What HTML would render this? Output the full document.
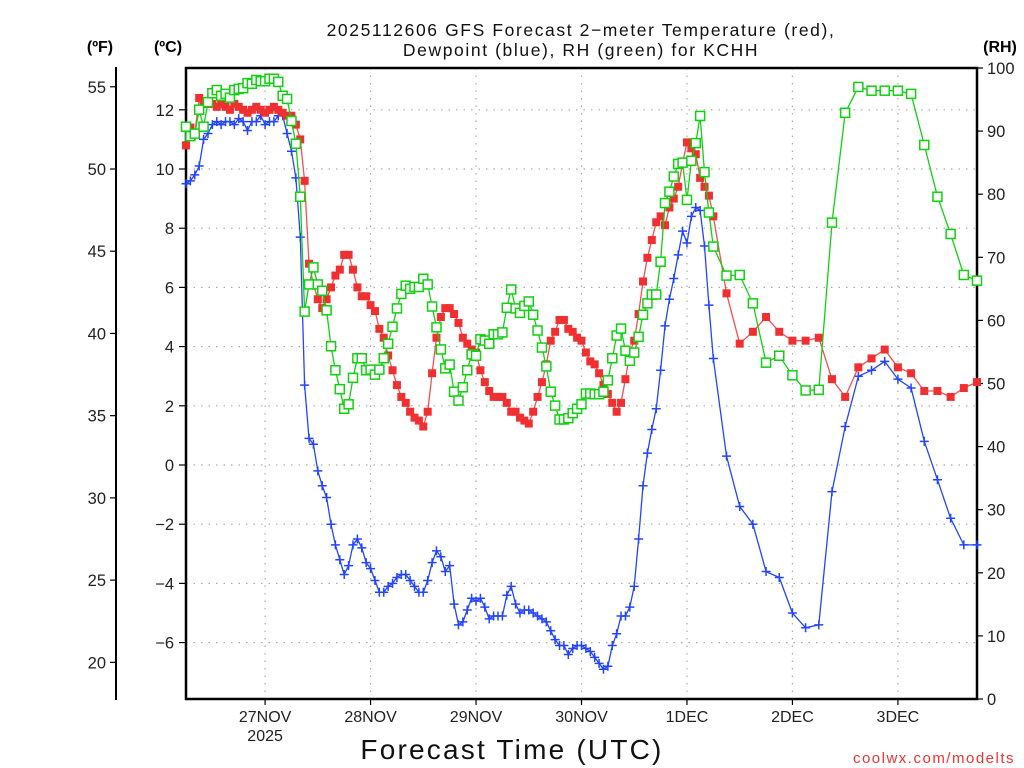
<!DOCTYPE html>
<html><head><meta charset="utf-8"><style>
html,body{margin:0;padding:0;background:#fff;}
svg{display:block;font-family:"Liberation Sans",sans-serif;}
</style></head><body>
<svg id="chart" width="1024" height="768" viewBox="0 0 1024 768" xmlns="http://www.w3.org/2000/svg">
<text x="581" y="36" font-size="17.5" text-anchor="middle" fill="#111" letter-spacing="1.6">2025112606 GFS Forecast 2−meter Temperature (red),</text>
<text x="581" y="56" font-size="17.5" text-anchor="middle" fill="#111" letter-spacing="1.6">Dewpoint (blue), RH (green) for KCHH</text>
<text x="100" y="52" font-size="16" font-weight="bold" text-anchor="middle">(ºF)</text>
<text x="168" y="52" font-size="16" font-weight="bold" text-anchor="middle">(ºC)</text>
<text x="1000" y="52" font-size="16" font-weight="bold" text-anchor="middle">(RH)</text>
<text x="512" y="759" font-size="28" text-anchor="middle" fill="#111" letter-spacing="2.2">Forecast Time (UTC)</text>
<text x="1015" y="763" font-size="15" text-anchor="end" fill="#e33" letter-spacing="1.5">coolwx.com/modelts</text>
<g id="grid"></g><g id="axes"></g><g id="series"></g>
</svg>
<script>
// ---- data ----
const dayLabels = ["27NOV","28NOV","29NOV","30NOV","1DEC","2DEC","3DEC"];
const dayHours = [18,42,66,90,114,138,162];
const cTicks = [12,10,8,6,4,2,0,-2,-4,-6];
const fTicks = [55,50,45,40,35,30,25,20];
const rhTicks = [100,90,80,70,60,50,40,30,20,10,0];
const hours = [];
for (let h = 0; h <= 120; h++) hours.push(h);
for (let h = 123; h <= 180; h += 3) hours.push(h);
const tempC = [10.8,11.4,11.2,12.4,12.2,12.2,12.2,12.1,12.2,12.1,12.0,12.2,12.1,12.0,11.9,12.0,12.1,12.0,11.9,12.0,12.1,12.0,11.9,11.8,11.8,11.5,11.0,
9.6,6.8,6.1,5.6,5.3,5.6,6.0,6.4,6.6,7.1,
7.1,6.6,6.0,5.7,5.7,5.4,5.2,4.6,4.3,3.7,
3.2,2.7,2.3,2.1,1.8,1.6,1.5,1.3,1.8,3.1,
4.3,5.0,5.3,5.3,5.1,4.8,4.3,4.1,3.9,3.8,
3.2,2.8,2.5,2.3,2.3,2.3,2.1,1.8,1.8,1.6,
1.5,1.4,1.8,2.3,2.8,3.4,4.2,4.5,4.9,4.9,
4.6,4.5,4.3,4.2,3.8,3.5,3.4,3.1,2.7,2.4,
2.1,1.8,2.1,2.9,3.8,4.2,5.1,6.2,
7.0,7.6,8.2,8.4,8.1,8.7,9.0,9.4,10.2,10.9,10.7,10.5,9.7,9.4,9.1,8.4,
5.8,4.1,4.5,5.0,4.5,4.2,4.2,4.3,2.9,2.3,3.3,3.6,3.9,3.3,3.1,2.5,2.5,2.3,2.6,2.8];
const dewC = [9.5,9.6,9.8,10.1,11.0,11.2,11.5,11.6,11.5,11.6,11.6,11.5,11.7,11.6,11.3,11.6,11.6,11.8,11.5,11.6,11.6,11.8,11.8,11.2,10.6,9.7,7.7,
2.7,0.9,0.7,-0.2,-0.7,-1.1,-2.0,-2.7,-3.2,-3.7,
-3.4,-2.7,-2.5,-2.8,-3.3,-3.5,-3.9,-4.3,-4.3,-4.1,
-4.0,-3.8,-3.7,-3.7,-3.9,-4.1,-4.3,-4.3,-3.9,-3.3,
-2.9,-3.1,-3.6,-3.4,-4.7,-5.4,-5.3,-4.9,-4.5,-4.6,
-4.5,-4.8,-5.2,-5.1,-5.1,-5.1,-4.4,-4.1,-4.7,-5.0,
-4.9,-4.9,-5.0,-5.1,-5.2,-5.3,-5.6,-5.9,-6.1,-6.1,
-6.4,-6.2,-6.1,-6.1,-6.2,-6.3,-6.5,-6.7,-6.9,-6.8,
-6.1,-5.7,-5.1,-5.1,-4.8,-4.1,-2.5,-0.7,
0.4,1.2,1.9,3.2,4.7,5.6,6.3,7.1,7.9,7.5,8.4,8.7,8.6,7.4,5.4,3.6,
0.3,-1.4,-2.0,-3.6,-3.8,-5.0,-5.5,-5.4,-0.9,1.3,3.0,3.2,3.5,2.9,2.6,0.8,-0.5,-1.8,-2.7,-2.7];
const rhPct = [90.7,89.2,89.6,93.4,90.7,94.6,96.0,96.5,95.6,95.9,95.3,96.5,96.7,96.8,97.6,97.5,98.1,97.9,97.9,98.3,98.3,97.8,95.6,95.1,91.6,88.0,79.6,
61.4,65.7,68.4,65.7,64.7,61.6,55.9,52.1,49.1,46.0,
46.7,50.9,54.0,54.0,52.1,52.2,51.4,52.2,54.0,56.3,
59.0,61.9,64.2,65.5,65.0,65.3,65.3,66.6,65.7,62.2,
58.9,55.4,52.4,53.0,48.7,47.3,49.4,52.1,54.6,54.4,
57.0,56.8,56.3,57.8,57.8,58.1,62.0,64.9,61.9,61.2,
62.3,63.0,60.9,58.4,55.7,52.7,48.7,46.5,44.3,44.3,
44.5,45.3,46.0,46.7,48.4,48.4,48.3,48.3,48.7,50.5,
54.0,57.6,58.7,55.2,53.6,54.9,57.4,60.9,
62.7,64.1,64.1,69.3,78.6,80.4,82.8,84.8,85.0,79.1,85.3,88.1,92.4,83.5,77.1,71.7,
67.1,67.2,62.7,53.3,54.4,51.3,48.9,49.0,75.5,92.9,97.0,96.4,96.4,96.4,95.9,87.8,79.6,73.7,67.2,66.3];

// ---- scales ----
const L=186, R=977, T=68, B=699;
const xH = h => L + h*(R-L)/180;
const yC = c => 465 - c*29.6;
const yF = f => yC((f-32)/1.8);
const yRH = r => B - r*(B-T)/100;
const NS="http://www.w3.org/2000/svg";
function mk(tag, attrs, parent){const e=document.createElementNS(NS,tag);for(const k in attrs)e.setAttribute(k,attrs[k]);parent.appendChild(e);return e;}
const grid=document.getElementById('grid'), axes=document.getElementById('axes'), series=document.getElementById('series');
const fmt = v => (v<0?"−"+Math.abs(v):String(v));

dayHours.forEach(h=>{const l=mk('line',{x1:xH(h),x2:xH(h),y1:T,y2:B,stroke:'#aaa','stroke-width':1.2,'stroke-dasharray':'1.5,6'},grid);

});
cTicks.forEach(c=>{const l=mk('line',{x1:L,x2:R,y1:yC(c),y2:yC(c),stroke:'#aaa','stroke-width':1.2,'stroke-dasharray':'1.5,6'},grid);

});

const fr=mk('rect',{x:L,y:T,width:R-L,height:B-T,fill:'none',stroke:'#000','stroke-width':2.5},axes);


const fl=mk('line',{x1:116,x2:116,y1:67,y2:700,stroke:'#000','stroke-width':2},axes);



cTicks.forEach(c=>{const y=yC(c);mk('line',{x1:L-7,x2:L,y1:y,y2:y,stroke:'#000','stroke-width':1.2},axes);
const t=mk('text',{x:L-12,y:y+6,'font-size':16.5,'text-anchor':'end',fill:'#222'},axes);t.textContent=fmt(c);

});
fTicks.forEach(f=>{const y=yF(f);mk('line',{x1:110,x2:116,y1:y,y2:y,stroke:'#000','stroke-width':1.2},axes);
const t=mk('text',{x:106,y:y+6,'font-size':16.5,'text-anchor':'end',fill:'#222'},axes);t.textContent=String(f);

});
rhTicks.forEach(r=>{const y=yRH(r);mk('line',{x1:R,x2:R+6,y1:y,y2:y,stroke:'#000','stroke-width':1.2},axes);
const t=mk('text',{x:R+10,y:y+6,'font-size':16.5,'text-anchor':'start',fill:'#222'},axes);t.textContent=String(r);

});
dayHours.forEach((h,i)=>{const x=xH(h);mk('line',{x1:x,x2:x,y1:B,y2:B+6,stroke:'#000','stroke-width':1.2},axes);
const t=mk('text',{x:x,y:B+23,'font-size':16,'text-anchor':'middle',fill:'#222'},axes);t.textContent=dayLabels[i];

});
const yr=mk('text',{x:xH(18),y:B+42,'font-size':16,'text-anchor':'middle',fill:'#222'},axes);yr.textContent="2025";



function drawSeries(vals, yfn, color, lineColor, kind, name){
  const n=Math.min(vals.length,hours.length);
  const g=mk('g',{},series);
  
  
  let d='';
  for(let i=0;i<n;i++){d+=(i?'L':'M')+xH(hours[i]).toFixed(1)+','+yfn(vals[i]).toFixed(1);}
  const p=mk('path',{d:d,fill:'none',stroke:lineColor,'stroke-width':1.3},g);
  
  
  for(let i=0;i<n;i++){
    const x=xH(hours[i]), y=yfn(vals[i]);
    let m;
    if(kind==='fill'){m=mk('rect',{x:x-4,y:y-4,width:8,height:8,fill:color},g);}
    else if(kind==='open'){m=mk('rect',{x:x-4.5,y:y-4.5,width:9,height:9,fill:'#fff',stroke:color,'stroke-width':1.5},g);}
    else {m=mk('path',{d:`M${x-4.5},${y}H${x+4.5}M${x},${y-4.5}V${y+4.5}`,stroke:color,'stroke-width':1.5},g);}
    
    
  }
}
drawSeries(dewC, yC, '#2244ff', '#2244ff', 'plus', 'dewpoint');
drawSeries(tempC, yC, '#f03030', '#f05050', 'fill', 'temperature');
drawSeries(rhPct, yRH, '#10d010', '#10d010', 'open', 'rh');
</script>
</body></html>
